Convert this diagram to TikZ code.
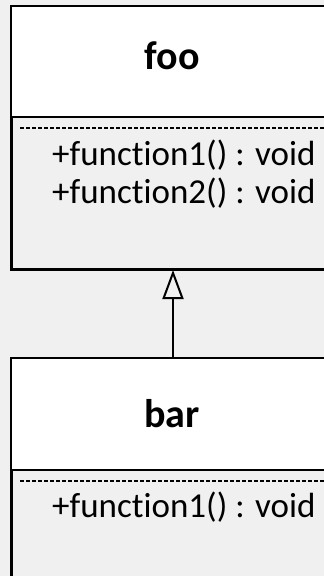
\documentclass[tikz,border=0pt]{standalone}
\usepackage{fontspec}
\setmainfont{Carlito}[Ligatures=NoCommon, RawFeature=-liga]
\usetikzlibrary{arrows.meta}
\definecolor{bgc}{HTML}{F0F0F0}
\tikzset{
  classbox/.style={draw=black, line width=2pt, fill=bgc, anchor=north west, inner sep=0pt, minimum width=322pt},
  header/.style={fill=white},
  sepline/.style={black, line width=2pt},
  dashline/.style={black, line width=1.2pt, dash pattern=on 4pt off 2pt},
  title/.style={font=\fontsize{40}{44}\selectfont\bfseries, anchor=base, inner sep=0pt},
  member/.style={font=\fontsize{35}{38}\selectfont, anchor=base west, inner sep=0pt},
  inherit/.style={line width=2pt, -{Triangle[length=29pt, width=21pt, fill=bgc, line width=2pt]}}
}
\begin{document}
\begin{tikzpicture}[x=1pt, y=-1pt]
\fill[bgc] (0,0) rectangle (324,576);
\useasboundingbox (0,0) rectangle (324,576);
% foo class
\node[classbox, minimum height=262.5pt] (fooBox) at (11,5.5) {};
\fill[header] (fooBox.north west) rectangle (333,117);
\draw[line width=2pt] (fooBox.north west) rectangle (fooBox.south east);
\draw[sepline] (11,117) -- (333,117);
\draw[dashline] (20,128) -- (333,128);
\node[title] (foo) at (172,69) {foo};
\node[member] (foof1) at (52,165) {+function1() : void};
\node[member] (foof2) at (52,203) {+function2() : void};
% bar class
\node[classbox, minimum height=240pt] (barBox) at (11,358) {};
\fill[header] (barBox.north west) rectangle (333,470);
\draw[line width=2pt] (barBox.north west) rectangle (barBox.south east);
\draw[sepline] (11,470) -- (333,470);
\draw[dashline] (20,481) -- (333,481);
\node[title] (bar) at (172,427) {bar};
\node[member] (barf1) at (52,517) {+function1() : void};
% inheritance
\draw[inherit] (barBox.north) -- (fooBox.south);
\end{tikzpicture}
\end{document}
